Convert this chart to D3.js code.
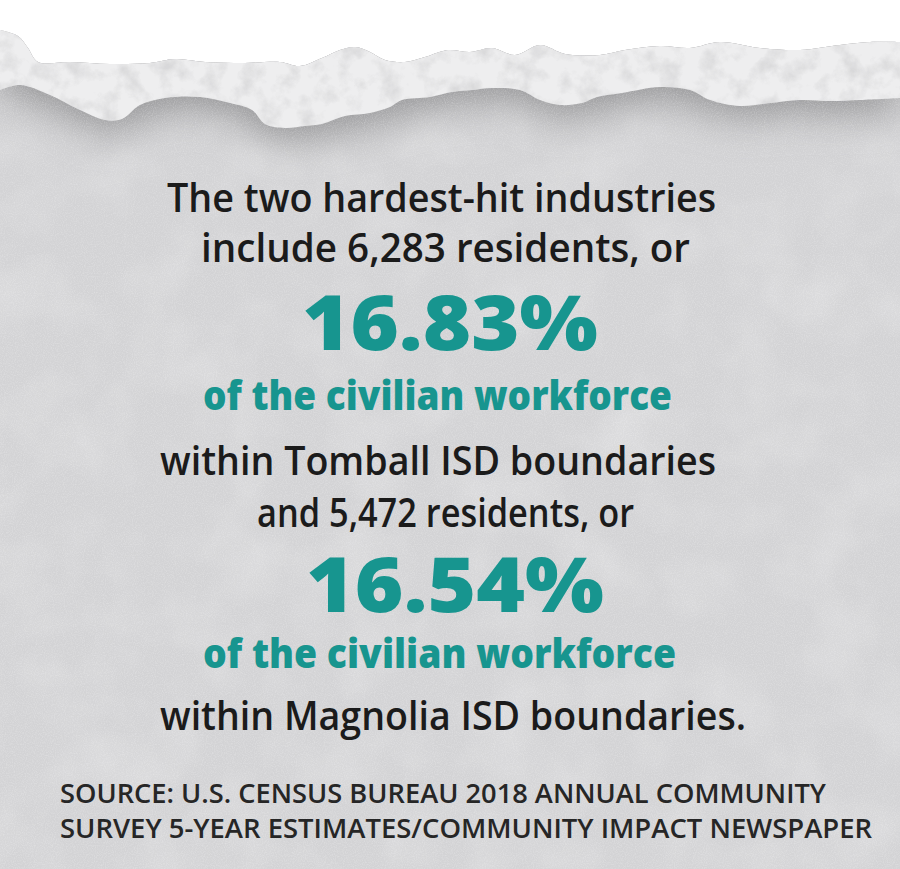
<!DOCTYPE html>
<html>
<head>
<meta charset="utf-8">
<script src="https://cdn.jsdelivr.net/npm/d3@7"></script>
<style>
  body { margin: 0; background: #fff; }
  svg { display: block; }
</style>
</head>
<body>
<svg width="900" height="869"></svg>
<script>
// figures shown in the graphic
const districts = ['Tomball', 'Magnolia'];
const residents = [6283, 5472];
const shares = [16.83, 16.54];
const leadLine = 'The two hardest-hit industries';
const sourceLines = [
  'SOURCE: U.S. CENSUS BUREAU 2018 ANNUAL COMMUNITY',
  'SURVEY 5-YEAR ESTIMATES/COMMUNITY IMPACT NEWSPAPER'
];

// torn paper outline (top of fringe / bottom of fringe)
const tearTop = [[0, 30], [18, 36], [28, 48], [38, 62], [70, 62], [110, 64], [150, 63], [175, 59], [205, 62], [245, 63], [280, 62], [300, 66], [322, 58], [340, 50], [355, 47], [370, 52], [385, 60], [405, 62], [425, 57], [448, 50], [470, 52], [492, 48], [515, 55], [540, 45], [565, 54], [600, 55], [625, 50], [660, 46], [690, 48], [720, 42], [760, 48], [800, 50], [840, 45], [870, 42], [900, 42]];
const tearBottom = [[0, 90], [20, 85], [50, 95], [80, 110], [105, 120], [122, 119], [140, 105], [165, 98], [200, 97], [230, 103], [252, 110], [265, 124], [285, 128], [305, 126], [322, 124], [345, 116], [370, 113], [390, 107], [402, 100], [430, 97], [452, 92], [472, 90], [492, 88], [520, 90], [540, 100], [560, 105], [582, 103], [597, 97], [622, 93], [660, 87], [690, 90], [710, 100], [740, 106], [770, 103], [800, 100], [830, 101], [860, 100], [900, 98]];

const W = 900, H = 869;
const teal = '#17958f';
const ink = '#1b1b1b';

const svg = d3.select('svg');
const defs = svg.append('defs');

// paper grain
const grain = defs.append('filter').attr('id', 'grain').attr('x', 0).attr('y', 0).attr('width', 1).attr('height', 1);
grain.append('feTurbulence').attr('type', 'fractalNoise').attr('baseFrequency', 0.9).attr('numOctaves', 2).attr('seed', 3);
grain.append('feColorMatrix').attr('type', 'matrix')
  .attr('values', '0 0 0 0 1  0 0 0 0 1  0 0 0 0 1  0.9 0 0 0 -0.35');

const blotch = defs.append('filter').attr('id', 'blotch').attr('x', 0).attr('y', 0).attr('width', 1).attr('height', 1);
blotch.append('feTurbulence').attr('type', 'fractalNoise').attr('baseFrequency', 0.015).attr('numOctaves', 3).attr('seed', 8);
blotch.append('feColorMatrix').attr('type', 'matrix')
  .attr('values', '0 0 0 0 1  0 0 0 0 1  0 0 0 0 1  1.2 0 0 0 -0.5');

const fluff = defs.append('filter').attr('id', 'fluff').attr('x', 0).attr('y', 0).attr('width', 1).attr('height', 1);
fluff.append('feTurbulence').attr('type', 'fractalNoise').attr('baseFrequency', 0.05).attr('numOctaves', 4).attr('seed', 5);
fluff.append('feColorMatrix').attr('type', 'matrix')
  .attr('values', '0 0 0 0 0.66  0 0 0 0 0.66  0 0 0 0 0.67  -2.2 0 0 0 1.25');

const shadowBlur = defs.append('filter').attr('id', 'shadowBlur').attr('x', -0.2).attr('y', -0.5).attr('width', 1.4).attr('height', 2);
shadowBlur.append('feGaussianBlur').attr('stdDeviation', 20);

const line = d3.line().curve(d3.curveCatmullRom.alpha(0.5));

const bodyPath = line(tearTop) + `L${W},${H}L0,${H}Z`;
defs.append('clipPath').attr('id', 'bodyClip').append('path').attr('d', bodyPath);

const fringePath = line(tearTop) + 'L' + line(tearBottom.slice().reverse()).slice(1) + 'Z';
defs.append('clipPath').attr('id', 'fringeClip').append('path').attr('d', fringePath);

svg.append('rect').attr('width', W).attr('height', H).attr('fill', '#fff');

const paper = svg.append('g').attr('clip-path', 'url(#bodyClip)');
paper.append('rect').attr('width', W).attr('height', H).attr('fill', '#d3d3d5');
paper.append('rect').attr('width', W).attr('height', H).attr('filter', 'url(#blotch)').attr('opacity', 0.35);

// shadow under the torn fringe
paper.append('path')
  .attr('d', line(tearBottom.map(([x, y]) => [x, y + 10])) + `L${W},0L0,0Z`)
  .attr('fill', '#8e8e90')
  .attr('filter', 'url(#shadowBlur)');

paper.append('rect').attr('width', W).attr('height', H).attr('filter', 'url(#grain)').attr('opacity', 0.5);

// fringe
const fringe = svg.append('g').attr('clip-path', 'url(#fringeClip)');
fringe.append('rect').attr('width', W).attr('height', 140).attr('fill', '#eeeeef');
fringe.append('rect').attr('width', W).attr('height', 140).attr('filter', 'url(#fluff)').attr('opacity', 0.85);

// text
const fmt = d3.format(',');
const pct = d3.format('.2f');

const rows = [];
districts.forEach((d, i) => {
  rows.push({ text: `${i === 0 ? 'include' : 'and'} ${fmt(residents[i])} residents, or`, kind: 'body' });
  rows.push({ text: `${pct(shares[i])}%`, kind: 'big' });
  rows.push({ text: 'of the civilian workforce', kind: 'sub' });
  rows.push({ text: `within ${d} ISD boundaries${i === districts.length - 1 ? '.' : ''}`, kind: 'body' });
});
rows.unshift({ text: leadLine, kind: 'body' });

const baselines = [212, 262, 350, 410, 475, 527, 612, 668, 730];
const spans = [[167, 716], [201, 690], [302, 598], [203, 672], [160, 716], [257, 634], [306, 604], [203, 676], [160, 746]];

const styles = {
  body: { size: 40, weight: 600, fill: ink },
  big: { size: 77, weight: 800, fill: teal },
  sub: { size: 40, weight: 800, fill: teal }
};

svg.append('g').selectAll('text').data(rows).join('text')
  .attr('x', (d, i) => spans[i][0])
  .attr('y', (d, i) => baselines[i])
  .attr('textLength', (d, i) => spans[i][1] - spans[i][0])
  .attr('lengthAdjust', 'spacingAndGlyphs')
  .attr('font-family', '"Open Sans", sans-serif')
  .attr('font-size', (d) => styles[d.kind].size)
  .attr('font-weight', (d) => styles[d.kind].weight)
  .attr('fill', (d) => styles[d.kind].fill)
  .text((d) => d.text);

const srcSpans = [[60, 826], [60, 872]];
svg.append('g').selectAll('text').data(sourceLines).join('text')
  .attr('x', (d, i) => srcSpans[i][0])
  .attr('y', (d, i) => [803, 838][i])
  .attr('textLength', (d, i) => srcSpans[i][1] - srcSpans[i][0])
  .attr('lengthAdjust', 'spacingAndGlyphs')
  .attr('font-family', '"Open Sans", sans-serif')
  .attr('font-size', 27)
  .attr('font-weight', 600)
  .attr('fill', '#262626')
  .text((d) => d);
</script>
</body>
</html>
